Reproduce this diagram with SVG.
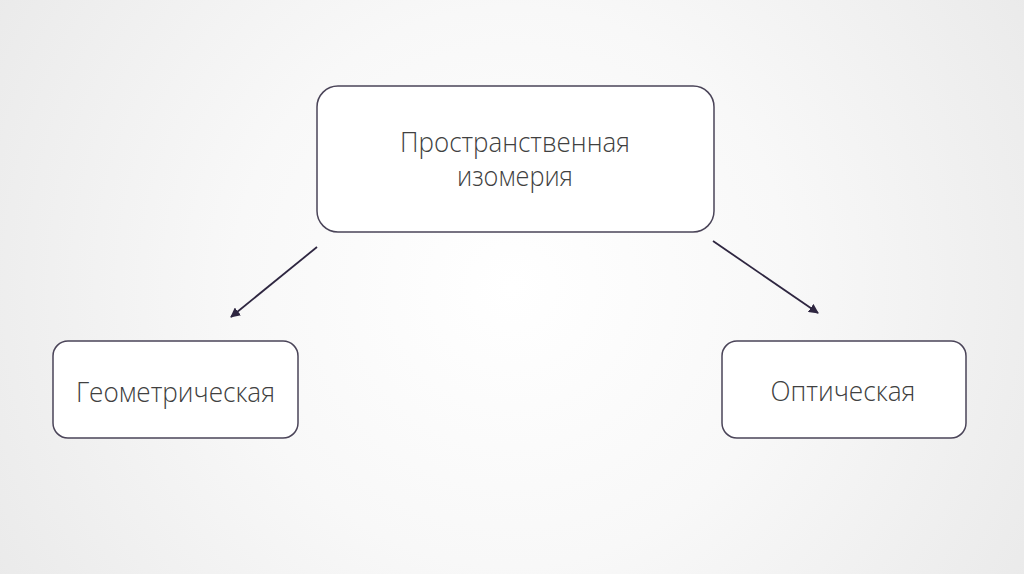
<svg xmlns="http://www.w3.org/2000/svg" width="1024" height="574" viewBox="0 0 1024 574">
  <defs>
    <radialGradient id="bg" cx="512" cy="287" r="620" gradientUnits="userSpaceOnUse">
      <stop offset="0" stop-color="#ffffff"/>
      <stop offset="0.45" stop-color="#f8f8f8"/>
      <stop offset="1" stop-color="#e9e9e9"/>
    </radialGradient>
    <marker id="arrow" viewBox="0 0 10 10" refX="9" refY="5" markerWidth="5.5" markerHeight="5.5" orient="auto" markerUnits="strokeWidth">
      <path d="M0,0 L10,5 L0,10 Z" fill="#2e2640"/>
    </marker>
    <style>
      .box { fill: #ffffff; stroke: #4a4458; stroke-width: 1.5; }
      .lbl { font-family: "Open Sans", "Liberation Sans", sans-serif; font-weight: 300; font-size: 27px; fill: #404040; text-anchor: middle; }
      .edge { stroke: #2e2640; stroke-width: 1.8; fill: none; marker-end: url(#arrow); }
    </style>
  </defs>
  <rect x="0" y="0" width="1024" height="574" fill="url(#bg)"/>
  <g id="connectors">
    <line class="edge" x1="317" y1="247" x2="231" y2="317"/>
    <line class="edge" x1="713" y1="241" x2="818" y2="313"/>
  </g>
  <g id="node-spatial">
    <rect class="box" x="317" y="86" width="397" height="146" rx="21" ry="21"/>
    <text class="lbl" x="515" y="152" textLength="230" lengthAdjust="spacingAndGlyphs">Пространственная</text>
    <text class="lbl" x="515" y="186" textLength="116" lengthAdjust="spacingAndGlyphs">изомерия</text>
  </g>
  <g id="node-geometric">
    <rect class="box" x="53" y="341" width="245" height="97" rx="15" ry="15"/>
    <text class="lbl" x="175.5" y="402" textLength="199" lengthAdjust="spacingAndGlyphs">Геометрическая</text>
  </g>
  <g id="node-optical">
    <rect class="box" x="722" y="341" width="244" height="97" rx="15" ry="15"/>
    <text class="lbl" x="843" y="401" textLength="145" lengthAdjust="spacingAndGlyphs">Оптическая</text>
  </g>
</svg>
